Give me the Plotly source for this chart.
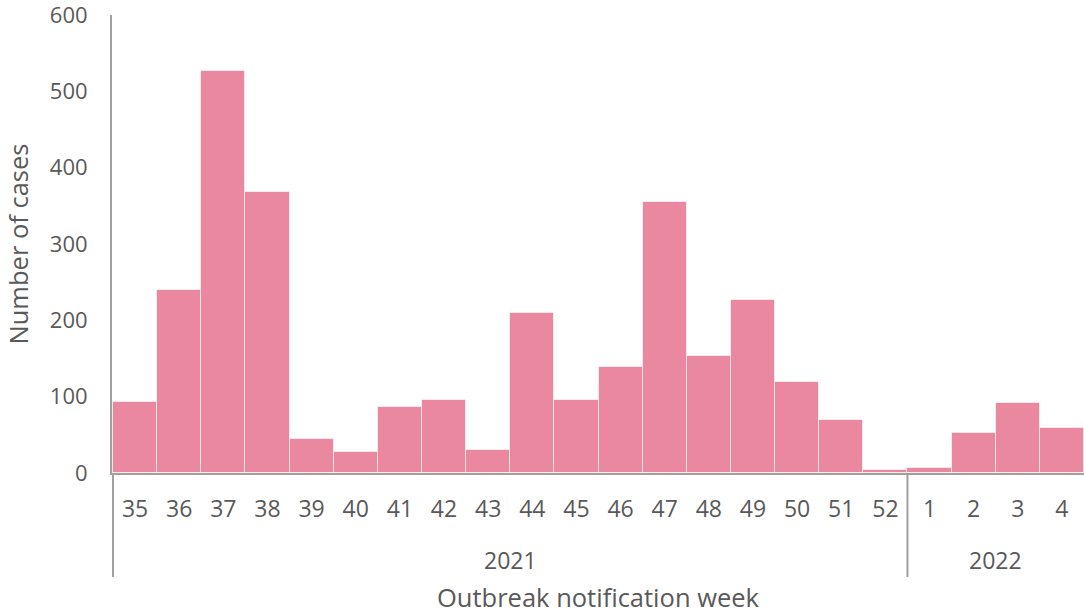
import plotly.graph_objects as go

years = ["2021"] * 18 + ["2022"] * 4
weeks = ["35", "36", "37", "38", "39", "40", "41", "42", "43", "44", "45", "46",
         "47", "48", "49", "50", "51", "52", "1", "2", "3", "4"]
cases = [93, 240, 526, 368, 45, 27, 87, 95, 30, 210, 95, 139,
         355, 153, 226, 119, 70, 4, 6, 53, 92, 59]

bar_color = "#E9889F"
text_color = "#595959"
axis_color = "#A0A0A0"
font_family = "Open Sans, Noto Sans, sans-serif"

fig = go.Figure()
fig.add_trace(go.Bar(
    x=weeks,
    y=cases,
    customdata=years,
    marker=dict(color=bar_color, line=dict(color="rgba(255,255,255,0.6)", width=1)),
    hovertemplate="Week %{x}, %{customdata}<br>Cases: %{y}<extra></extra>"
))

# year group labels and dividers under the week labels (Excel-style multi-level axis)
year_groups = []
for i, yr in enumerate(years):
    if not year_groups or year_groups[-1][0] != yr:
        year_groups.append([yr, i, i])
    else:
        year_groups[-1][2] = i

for yr, start, end in year_groups:
    fig.add_annotation(
        x=(start + end) / 2, xref="x",
        y=-0.19, yref="paper", yanchor="middle",
        text=yr, showarrow=False,
        font=dict(size=23, color=text_color)
    )
    fig.add_shape(
        type="line", xref="x", yref="paper",
        x0=start - 0.5, x1=start - 0.5, y0=0, y1=-0.227,
        line=dict(color=axis_color, width=2)
    )

fig.update_layout(
    width=1084, height=614,
    margin=dict(l=112, r=0, t=15, b=141),
    paper_bgcolor="white",
    plot_bgcolor="white",
    bargap=0,
    showlegend=False,
    font=dict(family=font_family, size=22, color=text_color),
    xaxis=dict(
        type="category",
        title=dict(text="Outbreak notification week", standoff=69,
                   font=dict(size=25.5, color=text_color)),
        showline=True, linecolor=axis_color, linewidth=2,
        showgrid=False, ticks="",
        ticklabelstandoff=14,
        tickfont=dict(size=23, color=text_color),
    ),
    yaxis=dict(
        title=dict(text="Number of cases", standoff=14,
                   font=dict(size=25.5, color=text_color)),
        range=[0, 600], dtick=100,
        showline=True, linecolor=axis_color, linewidth=2,
        showgrid=False, zeroline=False, ticks="",
        ticklabelstandoff=18, ticklabeloverflow="allow",
        tickfont=dict(size=22, color=text_color),
    ),
)

fig.write_html("out.html", config={"displayModeBar": False},
               post_script="document.body.style.margin='0';")
